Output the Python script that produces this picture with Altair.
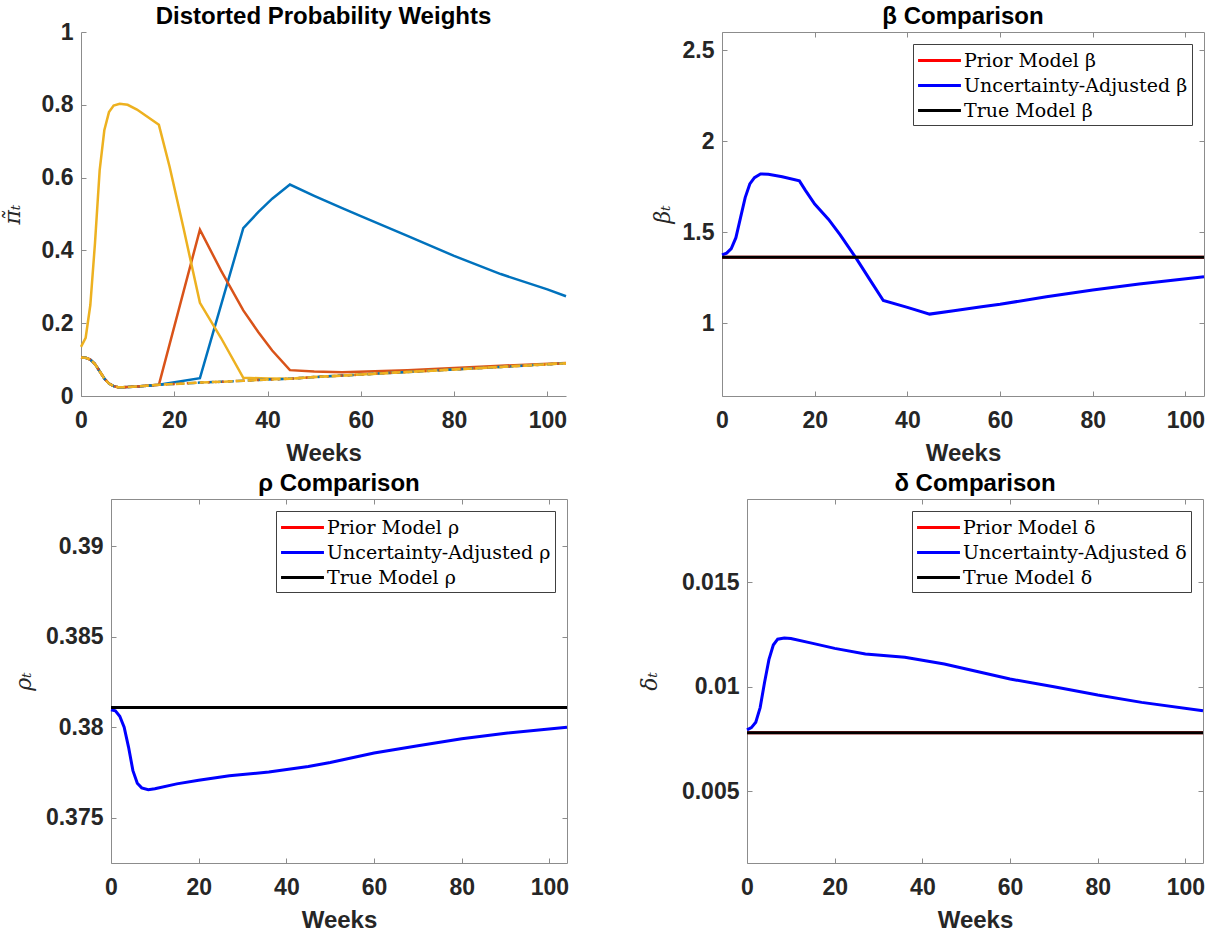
import altair as alt
import pandas as pd

# ---------------- data ----------------
X_TICKS = [0, 20, 40, 60, 80, 100]

# Distorted probability weights (top-left)
weeks_base = [0, 1, 2, 3, 4, 5, 6, 7, 8, 9, 10, 12, 14, 16.7, 20, 25.5, 30, 34.8, 40, 44.8, 50, 56, 60, 70, 80, 90, 100, 104]
pi_base = [0.106, 0.105, 0.100, 0.088, 0.068, 0.048, 0.034, 0.027, 0.024, 0.024, 0.025, 0.026, 0.028, 0.031, 0.033,
           0.037, 0.039, 0.042, 0.045, 0.0475, 0.052, 0.056, 0.059, 0.066, 0.073, 0.080, 0.087, 0.090]

weeks_blue = [0, 1, 2, 3, 4, 5, 6, 7, 8, 9, 10, 12, 14, 16.7, 25.5, 34.8, 38, 41, 44.8, 50, 56, 60, 70, 80, 90, 100, 104]
pi_blue = [0.106, 0.105, 0.100, 0.088, 0.068, 0.048, 0.034, 0.027, 0.024, 0.024, 0.025, 0.026, 0.028, 0.031, 0.049,
           0.461, 0.505, 0.542, 0.581, 0.550, 0.516, 0.494, 0.440, 0.385, 0.335, 0.293, 0.274]

weeks_orange = [0, 1, 2, 3, 4, 5, 6, 7, 8, 9, 10, 12, 14, 16.7, 25.5, 30, 34.8, 38, 41, 44.8, 50, 56, 70, 80, 90, 104]
pi_orange = [0.106, 0.105, 0.100, 0.088, 0.068, 0.048, 0.034, 0.027, 0.024, 0.024, 0.025, 0.026, 0.028, 0.031, 0.457,
             0.345, 0.235, 0.176, 0.125, 0.071, 0.067, 0.065, 0.071, 0.077, 0.083, 0.091]

weeks_yellow = [0, 1, 2, 3, 4, 5, 6, 7, 8.3, 10, 12, 14, 16.7, 19, 22, 25.5, 30, 34.8, 40, 44.8, 50, 56, 60, 70, 80, 90, 100, 104]
pi_yellow = [0.135, 0.16, 0.25, 0.42, 0.62, 0.73, 0.78, 0.798, 0.803, 0.80, 0.787, 0.769, 0.745, 0.63, 0.46, 0.256,
             0.16, 0.05, 0.048, 0.0475, 0.052, 0.056, 0.059, 0.066, 0.073, 0.080, 0.087, 0.090]

# beta
weeks_beta = [0, 1, 2, 3, 4, 5, 6, 7, 8.3, 10, 13, 16.7, 18, 20, 23, 25.5, 29, 32, 34.8, 40, 44.8, 50, 56, 60, 70, 80, 90, 104]
beta_adj = [1.375, 1.385, 1.41, 1.47, 1.58, 1.69, 1.765, 1.80, 1.82, 1.818, 1.805, 1.782, 1.73, 1.655, 1.57, 1.485,
            1.355, 1.235, 1.125, 1.087, 1.05, 1.068, 1.09, 1.104, 1.145, 1.183, 1.215, 1.255]
beta_true = 1.362

# rho
weeks_rho = [0, 1, 2, 3, 4, 5, 6, 7, 8.5, 10, 15, 20, 27, 36, 45, 50, 60, 70, 80, 90, 104]
rho_adj = [0.38096, 0.3809, 0.3806, 0.3800, 0.3789, 0.3776, 0.3769, 0.37665, 0.37655, 0.3766, 0.37687, 0.37707,
           0.37732, 0.37752, 0.37783, 0.37805, 0.37857, 0.37897, 0.37936, 0.37967, 0.38]
rho_true = 0.38108

# delta
weeks_delta = [0, 1, 2, 3, 4, 5, 6, 7, 8.5, 10, 15, 20, 27, 36, 45, 50, 60, 70, 80, 90, 104]
delta_adj = [0.00793, 0.00804, 0.0083, 0.0090, 0.0102, 0.0113, 0.0120, 0.01228, 0.01234, 0.01231, 0.01208, 0.01184,
             0.01157, 0.01141, 0.01109, 0.01085, 0.01037, 0.0100, 0.0096, 0.00925, 0.00885]
delta_true = 0.0078

weeks_const = [0, 104]

# ---------------- style ----------------
SANS = "Liberation Sans"
SERIF = "DejaVu Serif"
GRAY = "#8c8c8c"
DARK = "#262626"
SHIFT_A = 30  # top-left plot starts this many px left of the shared column origin
TOP1 = 31     # space reserved above the top row of plots
BOT1 = 68     # space reserved below the top row of plots
TOP2 = 32     # space reserved above the bottom row of plots


def df(w, v, series=""):
    return pd.DataFrame({"week": w, "value": v, "series": [series] * len(w)})


def xenc(axis, rng=None):
    if rng is None:
        sc = alt.Scale(domain=[0, 104], nice=False, zero=False)
    else:
        sc = alt.Scale(domain=[0, 104], range=rng, nice=False, zero=False)
    return alt.X("week:Q", scale=sc, axis=axis)


def yenc(dom, axis):
    return alt.Y("value:Q", scale=alt.Scale(domain=dom, nice=False, zero=False), axis=axis)


def ax_bottom():
    return alt.Axis(orient="bottom", values=X_TICKS, format="d", title="Weeks", offset=-5, tickSize=5,
                    tickColor=GRAY, domain=False, grid=False, labelFlush=False, labelPadding=13,
                    minExtent=38, maxExtent=38, titlePadding=12, labelFont=SANS, labelFontSize=23,
                    labelFontWeight="bold", labelColor=DARK, titleFont=SANS, titleFontSize=24,
                    titleFontWeight="bold", titleColor=DARK)


def ax_left(vals, title, ext, offset=-5):
    return alt.Axis(orient="left", values=vals, format="~g", title=title, offset=offset, tickSize=5,
                    tickColor=GRAY, domain=False, grid=False, labelPadding=8, labelFlush=False,
                    minExtent=ext, maxExtent=ext, titlePadding=10, labelFont=SANS, labelFontSize=23,
                    labelFontWeight="bold", labelColor=DARK, titleFont=SERIF, titleFontSize=22,
                    titleFontStyle="italic", titleFontWeight="normal", titleColor=DARK)


def ax_ticks(orient, vals):
    return alt.Axis(orient=orient, values=vals, labels=False, title=None, offset=-5, tickSize=5,
                    tickColor=GRAY, domain=False, grid=False, minExtent=0, maxExtent=5)


def ax_inv(orient, ext, val, domain=False, offset=0):
    return alt.Axis(orient=orient, values=[val], labels=False, title=None, ticks=True, tickSize=1,
                    tickColor="transparent", domain=domain, domainColor=GRAY, grid=False,
                    minExtent=ext, maxExtent=ext, offset=offset)


def title_layer(text, cx):
    return alt.Chart(pd.DataFrame({"t": [text]})).mark_text(
        font=SANS, fontSize=24, fontWeight="bold", color="black", baseline="alphabetic", align="center"
    ).encode(x=alt.value(cx), y=alt.value(-8), text="t:N")


# ---------------- top-left panel ----------------
A_DOM = [0, 1]
A_VALS = [0, 0.2, 0.4, 0.6, 0.8, 1]
A_W = 485
A_RANGE = [-SHIFT_A, A_W - SHIFT_A]
d_base = df(weeks_base, pi_base)


def xa(axis):
    return xenc(axis, A_RANGE)


a_layers = [
    alt.Chart(df(weeks_blue, pi_blue)).mark_line(color="#0072BD", strokeWidth=2.5).encode(
        x=xa(ax_bottom()), y=yenc(A_DOM, ax_left(A_VALS, "\u03c0\u0303\u209c", 52, offset=SHIFT_A - 5))),
    alt.Chart(df(weeks_orange, pi_orange)).mark_line(color="#D95319", strokeWidth=2.5).encode(
        x=xa(None), y=yenc(A_DOM, None)),
    alt.Chart(df(weeks_yellow, pi_yellow)).mark_line(color="#EDB120", strokeWidth=2.5).encode(
        x=xa(None), y=yenc(A_DOM, None)),
    alt.Chart(d_base).mark_line(color="#0072BD", strokeWidth=2.5, strokeDash=[6, 4]).encode(
        x=xa(None), y=yenc(A_DOM, None)),
    alt.Chart(d_base).mark_line(color="#D95319", strokeWidth=2.5, strokeDash=[2, 5]).encode(
        x=xa(None), y=yenc(A_DOM, None)),
    alt.Chart(d_base).mark_line(color="#EDB120", strokeWidth=2.5, strokeDash=[9, 3]).encode(
        x=xa(None), y=yenc(A_DOM, None)),
    alt.Chart(d_base).mark_line(strokeOpacity=0).encode(
        x=xa(ax_inv("top", TOP1, 0)), y=yenc(A_DOM, ax_inv("left", 79, 0, domain=True, offset=SHIFT_A))),
    alt.Chart(d_base).mark_line(strokeOpacity=0).encode(
        x=xa(ax_inv("bottom", BOT1, 0, domain=True)), y=yenc(A_DOM, None)),
    title_layer("Distorted Probability Weights", A_W / 2 - SHIFT_A),
]
panel_a = alt.layer(*a_layers).resolve_axis(x="independent", y="independent").properties(
    width=A_W - SHIFT_A, height=364, view=alt.ViewBackground(stroke="transparent"))


# ---------------- comparison panels ----------------
def comparison(sym, weeks, adj, true_val, dom, vals, ylab, ext_left_axis, inv_left, width, top_ext, bottom_inv):
    names = ["Prior Model " + sym, "Uncertainty-Adjusted " + sym, "True Model " + sym]
    legend = alt.Legend(title=None, orient="top-right", offset=12, symbolType="M-1.95,0H1.95",
                        symbolSize=484, symbolStrokeWidth=3, symbolOffset=10, labelOffset=12,
                        labelFont=SERIF, labelFontSize=19, labelColor="black", labelLimit=500,
                        strokeColor="#404040", fillColor="white", padding=4, rowPadding=2,
                        cornerRadius=0)

    def color():
        return alt.Color("series:N", scale=alt.Scale(domain=names, range=["#ff0000", "#0000ff", "#000000"]),
                         legend=legend)

    d_prior = df(weeks_const, [true_val, true_val], names[0])
    d_adj = df(weeks, adj, names[1])
    d_true = df(weeks_const, [true_val, true_val], names[2])
    layers = [
        alt.Chart(d_prior).mark_line(strokeWidth=3).encode(
            x=xenc(ax_bottom()), y=yenc(dom, ax_left(vals, ylab, ext_left_axis)), color=color()),
        alt.Chart(d_adj).mark_line(strokeWidth=3).encode(x=xenc(None), y=yenc(dom, None), color=color()),
        alt.Chart(d_true).mark_line(strokeWidth=3).encode(x=xenc(None), y=yenc(dom, None), color=color()),
        alt.Chart(d_adj).mark_line(strokeOpacity=0).encode(
            x=xenc(ax_ticks("top", X_TICKS)), y=yenc(dom, ax_ticks("right", vals))),
        alt.Chart(d_adj).mark_line(strokeOpacity=0).encode(
            x=xenc(ax_inv("top", top_ext, 0)), y=yenc(dom, ax_inv("left", inv_left, vals[0]))),
        title_layer(sym + " Comparison", width / 2),
    ]
    if bottom_inv:
        layers.append(alt.Chart(d_adj).mark_line(strokeOpacity=0).encode(
            x=xenc(ax_inv("bottom", BOT1, 0)), y=yenc(dom, None)))
    return alt.layer(*layers).resolve_axis(x="independent", y="independent").properties(
        width=width, height=364, view=alt.ViewBackground(stroke=GRAY, strokeWidth=1))


panel_b = comparison("\u03b2", weeks_beta, beta_adj, beta_true, [0.6, 2.6], [1, 1.5, 2, 2.5],
                     "\u03b2\u209c", 43, 80, 482, TOP1, True)
panel_c = comparison("\u03c1", weeks_rho, rho_adj, rho_true, [0.3725, 0.3926], [0.375, 0.38, 0.385, 0.39],
                     "\u03c1\u209c", 71, 109, 456, TOP2, False)
panel_d = comparison("\u03b4", weeks_delta, delta_adj, delta_true, [0.00155, 0.019], [0.005, 0.01, 0.015],
                     "\u03b4\u209c", 81, 110, 456, TOP2, False)

# the top-left axes report a span of 485 px from the column origin, 30 px wider than its view
row1 = alt.hconcat(panel_a, panel_b, spacing=74 - SHIFT_A).resolve_scale(color="independent").resolve_legend(
    color="independent")
row2 = alt.hconcat(panel_c, panel_d, spacing=62).resolve_scale(color="independent").resolve_legend(
    color="independent")
chart = alt.vconcat(row1, row2, spacing=0).resolve_scale(color="independent").resolve_legend(
    color="independent").properties(padding=0, background="white")

chart.save("out.html", embed_options={"renderer": "svg", "actions": False})
